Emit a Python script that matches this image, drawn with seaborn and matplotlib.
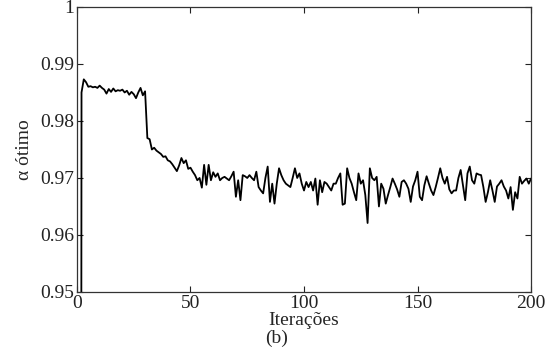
import numpy as np
import pandas as pd
import matplotlib
matplotlib.use("Agg")
import matplotlib.pyplot as plt
import seaborn as sns

# ---- data ----
plateau = [0.5, 0.9850, 0.9873, 0.9868, 0.9860, 0.9861, 0.9859, 0.9860, 0.9858, 0.9862,
           0.9858, 0.9855, 0.9848, 0.9856, 0.9851, 0.9857, 0.9852, 0.9854, 0.9853, 0.9855,
           0.9850, 0.9853, 0.9846, 0.9851, 0.9847, 0.9840, 0.9850, 0.9858, 0.9845, 0.9852]
decay = [0.9770, 0.9768, 0.9750, 0.9753, 0.9748, 0.9745, 0.9742, 0.9737, 0.9738, 0.9731,
         0.9729, 0.9724, 0.9718, 0.9712, 0.9722, 0.9735, 0.9726, 0.9731, 0.9716, 0.9718,
         0.9711, 0.9705, 0.9696, 0.9700, 0.9683, 0.9723, 0.9688, 0.9723, 0.9696, 0.9710]
steady = [0.9702, 0.9708, 0.9696, 0.9700, 0.9702, 0.9699, 0.9696, 0.9703, 0.9711, 0.9667,
          0.9696, 0.9661, 0.9705, 0.9703, 0.9700, 0.9705, 0.9700, 0.9696, 0.9711, 0.9684,
          0.9678, 0.9673, 0.9700, 0.9720, 0.9658, 0.9690, 0.9655, 0.9690, 0.9717, 0.9705,
          0.9696, 0.9690, 0.9687, 0.9684, 0.9700, 0.9717, 0.9700, 0.9708, 0.9690, 0.9678,
          0.9693, 0.9684, 0.9693, 0.9678, 0.9699, 0.9653, 0.9696, 0.9675, 0.9693, 0.9690,
          0.9684, 0.9678, 0.9690, 0.9690, 0.9700, 0.9708, 0.9653, 0.9655, 0.9717, 0.9700,
          0.9690, 0.9675, 0.9661, 0.9708, 0.9690, 0.9696, 0.9670, 0.9621, 0.9717, 0.9700,
          0.9696, 0.9702, 0.9650, 0.9690, 0.9681, 0.9655, 0.9670, 0.9684, 0.9699, 0.9690,
          0.9680, 0.9667, 0.9693, 0.9696, 0.9690, 0.9681, 0.9658, 0.9685, 0.9696, 0.9711,
          0.9667, 0.9661, 0.9687, 0.9703, 0.9690, 0.9678, 0.9670, 0.9684, 0.9700, 0.9717,
          0.9700, 0.9690, 0.9702, 0.9680, 0.9673, 0.9678, 0.9678, 0.9700, 0.9714, 0.9687,
          0.9661, 0.9708, 0.9720, 0.9696, 0.9690, 0.9708, 0.9706, 0.9705, 0.9684, 0.9658,
          0.9675, 0.9696, 0.9678, 0.9658, 0.9685, 0.9690, 0.9696, 0.9685, 0.9678, 0.9664,
          0.9684, 0.9644, 0.9675, 0.9664, 0.9702, 0.9690, 0.9695, 0.9699, 0.9690, 0.9699]
alpha_values = plateau + decay + steady
iterations = list(range(1, len(alpha_values) + 1))

x_ticks = [0, 50, 100, 150, 200]
y_ticks = [0.95, 0.96, 0.97, 0.98, 0.99, 1.0]
y_tick_labels = ["0.95", "0.96", "0.97", "0.98", "0.99", "1"]

df = pd.DataFrame({"Iteracoes": iterations, "alpha": alpha_values})

sns.set_style("ticks")
plt.rcParams["font.family"] = ["Liberation Serif", "DejaVu Serif"]

fig = plt.figure(figsize=(5.59, 3.48), dpi=100)
ax = fig.add_axes([0.1377, 0.161, 0.8123, 0.819])

sns.lineplot(data=df, x="Iteracoes", y="alpha", ax=ax, color="black", linewidth=1.3)

ax.set_xlim(0, 200)
ax.set_ylim(0.95, 1.0)
ax.set_xticks(x_ticks)
ax.set_yticks(y_ticks)
ax.set_yticklabels(y_tick_labels)
ax.tick_params(direction="in", top=True, right=True, length=4, width=0.8,
               labelsize=14, pad=2, colors="#222222")
for s in ax.spines.values():
    s.set_linewidth(0.9)
    s.set_color("#333333")

ax.set_xlabel("Iterações", fontsize=14, labelpad=0)
ax.set_ylabel("α ótimo", fontsize=14, labelpad=5)
fig.text(0.4955, 0.028, "(b)", ha="center", va="center", fontsize=14)

fig.savefig("out.png", dpi=100)
